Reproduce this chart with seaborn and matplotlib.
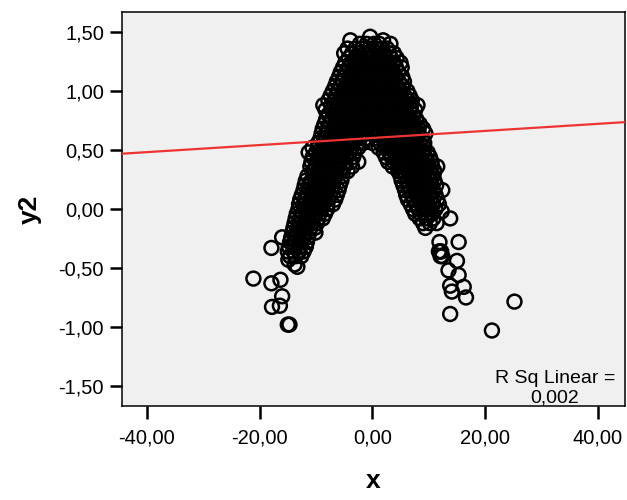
import matplotlib
matplotlib.use("Agg")
import matplotlib.pyplot as plt
import seaborn as sns
import pandas as pd

# ---- data (y level -> x values at that level) ----
peak_rows = [
    (1.46, [-0.4]),
    (1.43, [-3.9, 1.9]),
    (1.40, [-2.2, -1.0, 0.3, 1.2, 3.2]),
    (1.36, [-4.4, -3.0, -1.8, -0.6, 0.6, 1.6, 2.6]),
    (1.32, [-5.0, -3.6, -2.4, -1.3, -0.2, 0.9, 2.0, 3.0, 3.8]),
    (1.28, [-4.2, -3.0, -2.0, -1.0, 0.0, 1.1, 2.2, 3.3, 4.3]),
    (1.24, [-4.8, -3.8, -2.7, -1.6, -0.5, 0.6, 1.6, 2.7, 3.8, 5.0]),
    (1.20, [-5.2, -4.2, -3.2, -2.2, -1.1, 0.0, 1.0, 2.1, 3.1, 4.2, 5.2]),
    (1.16, [-5.6, -4.5, -3.5, -2.5, -1.5, -0.5, 0.5, 1.5, 2.6, 3.6, 4.6]),
    (1.12, [-5.9, -4.9, -3.9, -2.9, -1.9, -0.9, 0.1, 1.1, 2.1, 3.1, 4.1, 5.3]),
    (1.08, [-6.3, -5.3, -4.3, -3.3, -2.3, -1.3, -0.3, 0.7, 1.7, 2.7, 3.7, 4.7, 5.6]),
    (1.04, [-6.6, -5.6, -4.6, -3.6, -2.6, -1.6, -0.6, 0.4, 1.4, 2.4, 3.4, 4.4, 5.4]),
    (1.00, [-7.0, -6.0, -5.0, -4.0, -3.0, -2.0, -1.0, 0.0, 1.0, 2.0, 3.0, 4.0, 5.0, 6.2]),
    (0.96, [-7.4, -6.3, -5.3, -4.3, -3.3, -2.3, -1.3, -0.3, 0.7, 1.7, 2.7, 3.7, 4.7, 5.7, 6.6]),
    (0.92, [-7.8, -6.7, -5.7, -4.7, -3.7, -2.7, -1.7, -0.7, 0.3, 1.3, 2.3, 3.3, 4.3, 5.3, 6.3, 7.0]),
    (0.88, [-8.7, -7.3, -6.2, -5.1, -4.1, -3.1, -2.1, -1.1, -0.1, 0.9, 1.9, 2.9, 3.9, 4.9, 5.9, 6.9, 8.0]),
    (0.84, [-8.3, -7.2, -6.2, -5.2, -4.2, -3.2, -2.2, -1.2, -0.2, 0.8, 1.8, 2.8, 3.8, 4.8, 5.8, 6.8, 7.6]),
    (0.80, [-7.8, -6.8, -5.8, -4.8, -3.8, -2.8, -1.8, -0.8, 0.2, 1.2, 2.2, 3.2, 4.2, 5.2, 6.2, 7.2]),
    (0.76, [-8.2, -7.2, -6.2, -5.2, -4.2, -3.2, -2.2, -1.2, -0.2, 0.8, 1.8, 2.8, 3.8, 4.8, 5.8, 6.8, 7.8]),
    (0.72, [-8.5, -7.5, -6.5, -5.5, -4.5, -3.5, -2.5, -1.5, -0.5, 0.5, 1.5, 2.5, 3.5, 4.5, 5.5, 6.5, 7.5, 8.4]),
    (0.68, [-8.8, -7.8, -6.8, -5.8, -4.8, -3.8, -2.8, -1.8, -0.8, 0.2, 1.2, 2.2, 3.2, 4.2, 5.2, 6.2, 7.2, 8.2, 9.0]),
    (0.64, [-9.0, -8.0, -7.0, -6.0, -5.0, -4.0, -3.0, -2.0, -1.0, 0.0, 1.0, 2.0, 3.0, 4.0, 5.0, 6.0, 7.0, 8.0, 9.4]),
    (0.60, [-9.2, -8.2, -7.2, -6.2, -5.2, -4.2, -3.2, -2.2, -1.2, 0.8, 1.8, 2.8, 3.8, 4.8, 5.8, 6.8, 7.8, 8.8]),
    (0.56, [-9.6, -8.6, -7.6, -6.6, -5.6, -4.6, -3.6, -2.6, -1.6, 0.0, 1.4, 2.4, 3.4, 4.4, 5.4, 6.4, 7.4, 8.4, 9.2]),
]

left_arm_rows = [
    (0.52, [-10.6, -9.6, -8.6, -7.6, -6.6, -5.6, -4.6, -3.6, -2.5]),
    (0.48, [-11.3, -10.0, -9.0, -8.0, -7.0, -6.0, -5.0, -4.0, -3.2]),
    (0.44, [-10.6, -9.6, -8.6, -7.6, -6.6, -5.6, -4.6, -3.4]),
    (0.40, [-10.8, -9.8, -8.8, -7.8, -6.8, -5.8, -4.8, -3.8, -2.5]),
    (0.36, [-11.0, -10.0, -9.0, -8.0, -7.0, -6.0, -5.0, -3.6]),
    (0.32, [-10.6, -9.6, -8.6, -7.6, -6.6, -5.6, -4.4]),
    (0.28, [-11.5, -10.5, -9.5, -8.5, -7.5, -6.5, -5.3]),
    (0.24, [-11.8, -10.8, -9.8, -8.8, -7.8, -6.8, -5.5]),
    (0.20, [-12.0, -11.0, -10.0, -9.0, -8.0, -7.0, -5.8]),
    (0.16, [-12.2, -11.2, -10.2, -9.2, -8.2, -7.2, -6.0]),
    (0.12, [-12.5, -11.5, -10.5, -9.5, -8.5, -7.5, -6.3]),
    (0.08, [-12.8, -11.8, -10.8, -9.8, -8.8, -7.8, -6.6]),
    (0.04, [-13.0, -12.0, -11.0, -10.0, -9.0, -8.0, -7.0]),
    (0.00, [-13.1, -12.1, -11.1, -10.1, -9.1, -8.0]),
    (-0.04, [-13.4, -12.4, -11.4, -10.4, -9.4, -8.4]),
    (-0.08, [-13.6, -12.6, -11.6, -10.6, -9.6, -8.8]),
    (-0.12, [-13.8, -12.8, -11.8, -10.8, -9.8]),
    (-0.16, [-14.0, -13.0, -12.0, -11.0, -10.2]),
    (-0.20, [-14.2, -13.2, -12.2, -11.2, -10.1]),
    (-0.24, [-16.0, -14.4, -13.4, -12.4, -11.4]),
    (-0.28, [-14.6, -13.6, -12.6, -11.6]),
    (-0.32, [-14.8, -13.8, -12.8, -11.8]),
    (-0.33, [-17.9]),
    (-0.36, [-15.0, -14.0, -13.0, -12.2]),
    (-0.40, [-14.6, -13.6, -12.6]),
    (-0.43, [-14.9]),
    (-0.47, [-13.8]),
    (-0.49, [-13.3]),
    (-0.59, [-21.1]),
    (-0.60, [-16.3]),
    (-0.63, [-17.9]),
    (-0.74, [-16.0]),
    (-0.82, [-16.4]),
    (-0.83, [-17.8]),
    (-0.98, [-15.0, -14.7]),
]

right_arm_rows = [
    (0.52, [1.1, 2.2, 3.2, 4.2, 5.2, 6.2, 7.2, 8.2, 9.2]),
    (0.48, [2.0, 3.0, 4.0, 5.0, 6.0, 7.0, 8.0, 9.0, 9.8]),
    (0.44, [2.4, 3.4, 4.4, 5.4, 6.4, 7.4, 8.4, 9.4, 10.2]),
    (0.40, [2.8, 3.8, 4.8, 5.8, 6.8, 7.8, 8.8, 9.8, 10.5]),
    (0.36, [3.6, 4.6, 5.6, 6.6, 7.6, 8.6, 9.6, 10.6, 11.5]),
    (0.32, [4.6, 5.3, 6.3, 7.3, 8.3, 9.3, 10.3, 11.0]),
    (0.28, [5.0, 6.0, 7.0, 8.0, 9.0, 10.0, 10.8]),
    (0.24, [5.2, 6.2, 7.2, 8.2, 9.2, 10.2, 11.0]),
    (0.20, [5.5, 6.5, 7.5, 8.5, 9.5, 10.5, 11.3]),
    (0.16, [5.8, 6.8, 7.8, 8.8, 9.8, 10.8, 12.4]),
    (0.12, [6.0, 7.0, 8.0, 9.0, 10.0, 11.2]),
    (0.08, [6.3, 7.3, 8.3, 9.3, 10.3, 11.5]),
    (0.04, [6.8, 7.8, 8.8, 9.8, 10.8, 11.8]),
    (0.00, [7.2, 8.2, 9.2, 10.2, 11.2]),
    (-0.02, [12.3]),
    (-0.04, [7.6, 8.6, 9.6, 10.6]),
    (-0.08, [8.4, 9.6, 10.8, 13.8]),
    (-0.12, [9.0, 10.2, 11.4]),
    (-0.16, [9.4]),
    (-0.28, [11.9, 15.3]),
    (-0.36, [11.8, 12.2, 12.0]),
    (-0.40, [12.1, 12.4]),
    (-0.44, [15.0]),
    (-0.52, [13.5]),
    (-0.56, [15.3]),
    (-0.65, [13.8]),
    (-0.66, [16.2]),
    (-0.70, [14.1]),
    (-0.75, [16.6]),
    (-0.785, [25.2]),
    (-0.89, [13.8]),
    (-1.03, [21.2]),
]

fit_intercept = 0.602
fit_slope = 0.0030
r_sq_text = "R Sq Linear =\n0,002"

x_ticks = [-40, -20, 0, 20, 40]
x_tick_labels = ["-40,00", "-20,00", "0,00", "20,00", "40,00"]
y_ticks = [-1.5, -1.0, -0.5, 0.0, 0.5, 1.0, 1.5]
y_tick_labels = ["-1,50", "-1,00", "-0,50", "0,00", "0,50", "1,00", "1,50"]

# ---- build table ----
xs, ys = [], []
for rows in (peak_rows, left_arm_rows, right_arm_rows):
    for yv, xlist in rows:
        for xv in xlist:
            xs.append(xv)
            ys.append(yv)
df = pd.DataFrame({"x": xs, "y2": ys})

sns.set_style("white")
plt.rcParams["font.family"] = ["Liberation Sans", "DejaVu Sans"]
plt.rcParams["text.color"] = "black"
plt.rcParams["axes.labelcolor"] = "black"

fig = plt.figure(figsize=(6.27, 5.0), dpi=100)
ax = fig.add_axes([122 / 627, 94 / 500, 503 / 627, 394 / 500])
ax.set_facecolor("#F0F0F0")

sns.scatterplot(data=df, x="x", y="y2", ax=ax, marker="o", s=100,
                facecolor="none", edgecolor="black", linewidth=1.8, zorder=2)
ax.axline((0, fit_intercept), slope=fit_slope, color="#EE3333", lw=1.6, zorder=3)

ax.set_xlim(-44.4, 44.8)
ax.set_ylim(-1.67, 1.67)
ax.set_xticks(x_ticks)
ax.set_xticklabels(x_tick_labels)
ax.set_yticks(y_ticks)
ax.set_yticklabels(y_tick_labels)
ax.tick_params(axis="both", which="major", direction="out", length=9, width=1.8,
               labelsize=14.5, color="black", labelcolor="black")
ax.tick_params(axis="x", pad=7)
ax.tick_params(axis="y", pad=4)
ax.tick_params(left=True, bottom=True)

for s in ax.spines.values():
    s.set_visible(True)
    s.set_color("black")
    s.set_linewidth(1.1)

ax.set_xlabel("x", fontsize=19, fontweight="bold", labelpad=16, color="black")
ax.set_ylabel("y2", fontsize=19, fontweight="bold", labelpad=12, color="black")

ax.text(0.861, 0.045, r_sq_text, transform=ax.transAxes, ha="center", va="center",
        fontsize=14, linespacing=1.15, color="black", zorder=4)

fig.savefig("out.png", dpi=100)
